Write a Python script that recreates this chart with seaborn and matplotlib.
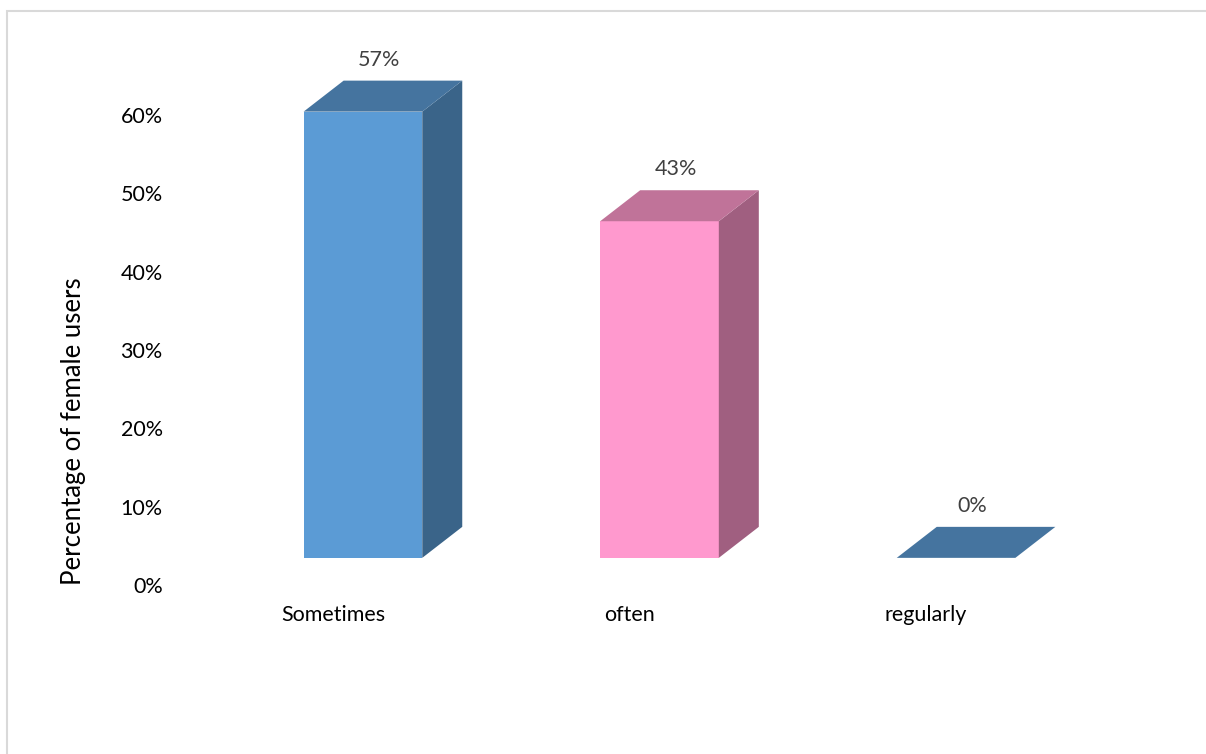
import matplotlib
matplotlib.use("Agg")
import matplotlib.pyplot as plt
import seaborn as sns
import pandas as pd
from matplotlib.patches import Polygon, Rectangle
from matplotlib.transforms import ScaledTranslation

# ---- data ----
categories = ["Sometimes", "often", "regularly"]
values = [57, 43, 0]
value_labels = ["57%", "43%", "0%"]
yticks = [0, 10, 20, 30, 40, 50, 60]
ytick_labels = ["0%", "10%", "20%", "30%", "40%", "50%", "60%"]
ylabel = "Percentage of female users"

# ---- styles ----
front_colors = ["#5B9BD5", "#FF99CE", "#5B9BD5"]
top_colors = ["#45749F", "#C07399", "#45749F"]
side_colors = ["#3A6489", "#A05F80", "#3A6489"]
DEPTH = (40, 31)  # pixel offset of the 3D depth

sns.set_theme(style="white")
plt.rcParams['font.family'] = ['Lato', 'DejaVu Sans']
FS = 15.5

W, H = 1206, 754
fig = plt.figure(figsize=(W / 100, H / 100), dpi=100)
ax = fig.add_axes([185 / W, 157 / H, (1134 - 185) / W, (705 - 157) / H])

df = pd.DataFrame({"cat": categories, "val": values})
sns.barplot(data=df, x="cat", y="val", hue="cat", palette=front_colors,
            width=0.4, saturation=1, legend=False, ax=ax, linewidth=0, zorder=2)
ax.set_xlim(-0.6, 2.6)
ax.set_ylim(-5, 65)

for s in ax.spines.values():
    s.set_visible(False)
ax.grid(False)

# 3D faces
inv = ax.transData.inverted()
dx, dy = DEPTH
i = 0
for cont in ax.containers:
    for bar in cont:
        x0 = bar.get_x()
        x1 = x0 + bar.get_width()
        h = bar.get_height()
        fl = ax.transData.transform((x0, h))
        fr = ax.transData.transform((x1, h))
        br = ax.transData.transform((x1, 0))
        side = [fr, br, (br[0] + dx, br[1] + dy), (fr[0] + dx, fr[1] + dy)]
        top = [fl, fr, (fr[0] + dx, fr[1] + dy), (fl[0] + dx, fl[1] + dy)]
        ax.add_patch(Polygon(inv.transform(side), closed=True, facecolor=side_colors[i],
                             edgecolor="none", clip_on=False, zorder=3))
        ax.add_patch(Polygon(inv.transform(top), closed=True, facecolor=top_colors[i],
                             edgecolor="none", clip_on=False, zorder=3))
        ax.annotate(value_labels[i], xy=(x0 + bar.get_width() / 2, h), xytext=(16, 52),
                    textcoords="offset pixels", ha="center", va="center",
                    color="#404040", fontsize=FS, annotation_clip=False)
        i += 1

ax.set_yticks(yticks)
ax.set_yticklabels(ytick_labels)
ax.tick_params(axis="y", length=0, pad=16, labelsize=FS, labelcolor="black")
ax.tick_params(axis="x", length=0, pad=6, labelsize=FS, labelcolor="black")
for lab in ax.get_yticklabels():
    lab.set_transform(lab.get_transform() + ScaledTranslation(0, -0.27, fig.dpi_scale_trans))
for lab in ax.get_xticklabels():
    lab.set_transform(lab.get_transform() + ScaledTranslation(-0.30, 0, fig.dpi_scale_trans))

ax.set_xlabel("")
ax.set_ylabel(ylabel, fontsize=18.5, color="black")
ax.yaxis.set_label_coords(-0.104, 0.303)

fig.add_artist(Rectangle((7 / W, -0.1), 1.2, (1 - 11 / H) + 0.1, transform=fig.transFigure,
                         fill=False, edgecolor="#D9D9D9", lw=1.5))

fig.savefig("out.png", dpi=100, facecolor="white")
